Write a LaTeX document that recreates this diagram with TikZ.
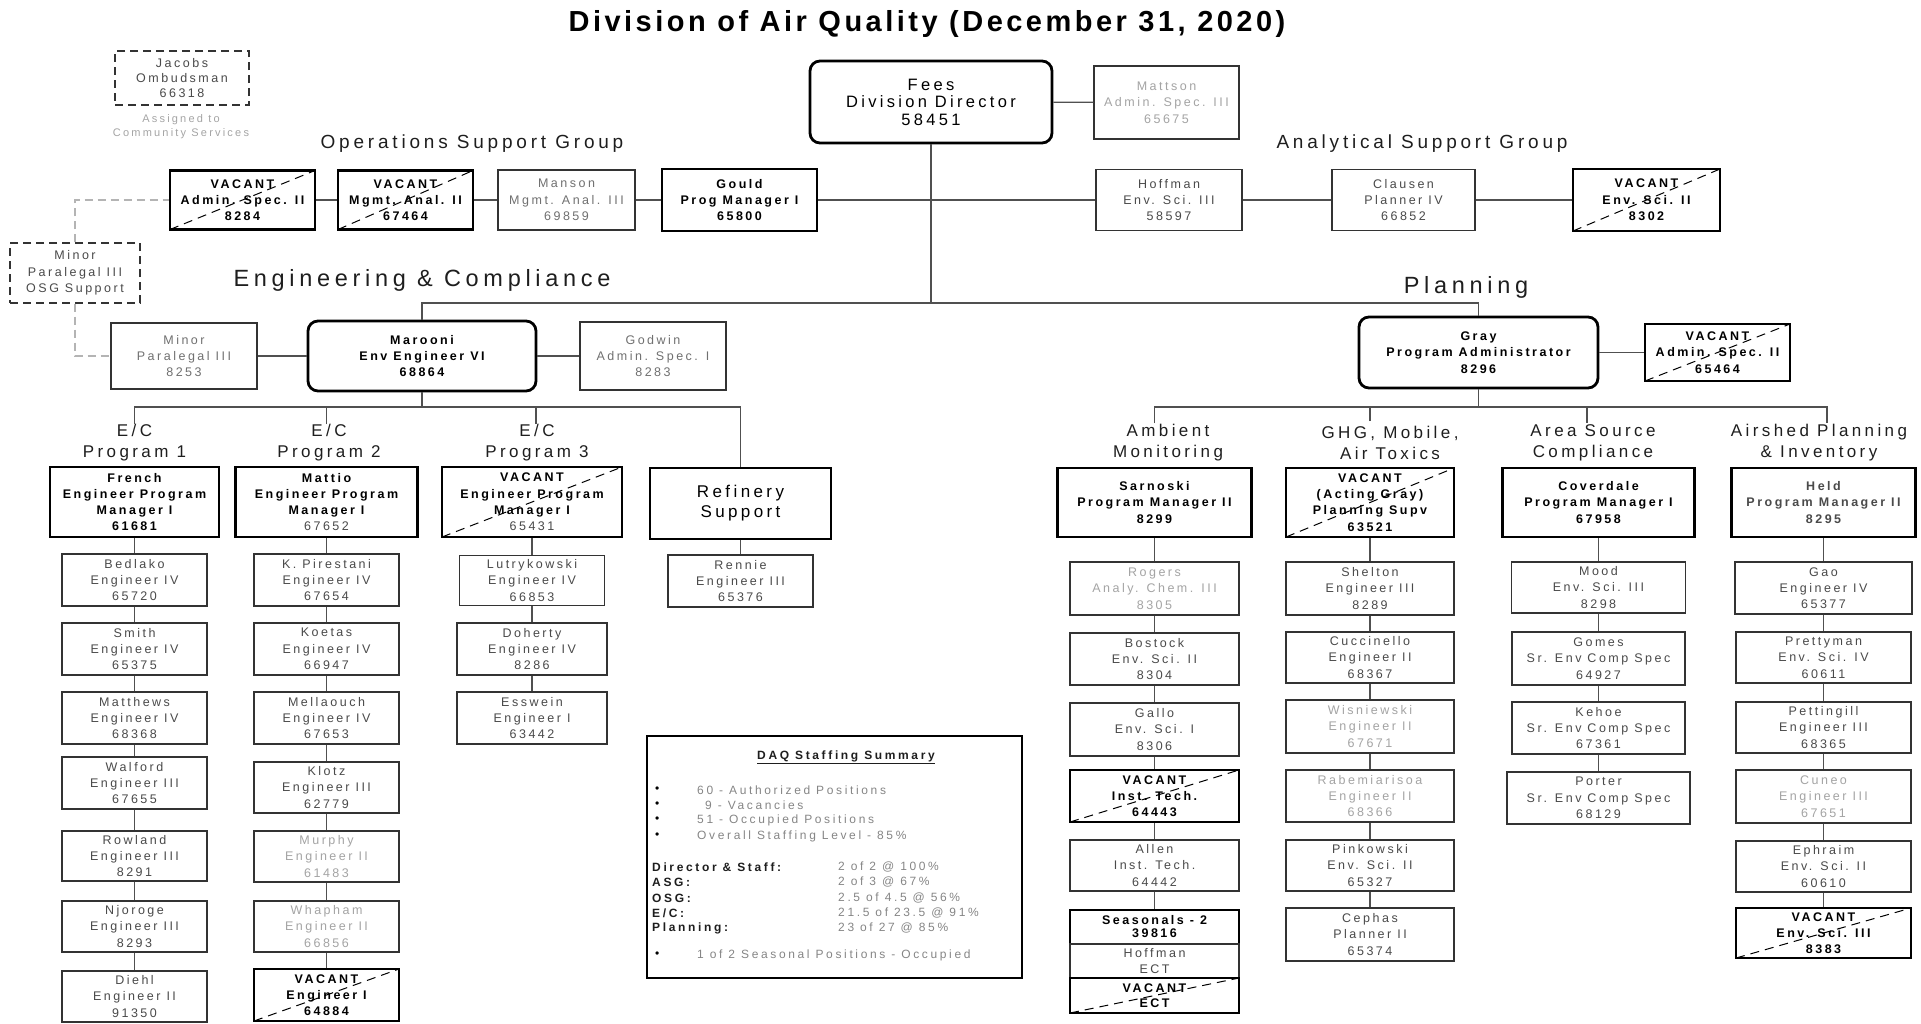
\documentclass[tikz,border=0pt]{standalone}
\usepackage{fontspec}
\setmainfont{Liberation Sans}[LetterSpace=20]
\newfontfamily\titlefont{Liberation Sans}[LetterSpace=12]
\newfontfamily\sumfont{Liberation Sans}[LetterSpace=22]
\usepackage{tikz}

\definecolor{txt}{HTML}{4A4A4A}
\definecolor{txtmid}{HTML}{707070}
\definecolor{txtfaint}{HTML}{A4A4A4}
\definecolor{boxline}{HTML}{333333}
\definecolor{linkgray}{HTML}{505050}
\definecolor{guidegray}{HTML}{B4B4B4}
\definecolor{sumtxt}{HTML}{858585}
\definecolor{sumhead}{HTML}{1E1E1E}

\begin{document}
\begin{tikzpicture}[x=1pt, y=-1pt,
    box/.style={draw=boxline, line width=1.3pt, fill=white, text=txt, align=center, inner sep=0pt,
        font=\fontsize{12.5}{16.3}\selectfont},
    faint/.style={box, text=txtfaint},
    boss/.style={box, draw=black, line width=2.8pt, text=black, font=\fontsize{12.5}{16.3}\selectfont\bfseries},
    vacant/.style={boss, path picture={\draw[black, line width=1pt, dash pattern=on 9pt off 6pt]
        (path picture bounding box.south west) -- (path picture bounding box.north east);}},
    lead/.style={boss, rounded corners=10pt},
    dashbox/.style={box, dash pattern=on 8pt off 5pt},
    unit/.style={align=center, inner sep=0pt, text=sumhead, font=\fontsize{17}{21}\selectfont},
    group/.style={anchor=base, inner sep=0pt, text=sumhead, font=\fontsize{19}{23}\selectfont},
    section/.style={anchor=base, inner sep=0pt, text=sumhead, font=\fontsize{23.5}{28}\selectfont},
    sumline/.style={anchor=west, inner sep=0pt, text=sumtxt, font=\sumfont\fontsize{12}{14}\selectfont},
    link/.style={draw=linkgray, line width=1.3pt},
    guide/.style={draw=guidegray, line width=1.3pt, dash pattern=on 8pt off 5pt},
    sz/.style 2 args={minimum width=#1, minimum height=#2}]

\useasboundingbox (0,0) rectangle (1921,1023);

% Title and headings
\node[anchor=base, inner sep=0pt, font=\titlefont\fontsize{29}{32}\selectfont\bfseries] (title) at (927,31) {Division of Air Quality (December 31, 2020)};
\node[group] (osghead) at (472,148) {Operations Support Group};
\node[group] (asghead) at (1422,148) {Analytical Support Group};
\node[section] (echead) at (422,286) {Engineering \& Compliance};
\node[section] (plhead) at (1466,293) {Planning};

% Director and staff
\node[lead, sz={242}{82}, font=\fontsize{16.5}{17.5}\selectfont] (fees) at (931,102) {Fees\\Division Director\\58451};
\node[faint, sz={145}{73}] (mattson) at (1166.5,102.5) {Mattson\\Admin. Spec. III\\65675};
\node[dashbox, sz={134}{54}, font=\fontsize{12.5}{15}\selectfont] (jacobs) at (182,78) {Jacobs\\Ombudsman\\66318};
\node[align=center, inner sep=0pt, text=txtfaint, font=\fontsize{11}{14}\selectfont] (assigned) at (181,127) {Assigned to\\Community Services};

% Operations and analytical support
\node[vacant, sz={145}{59}] (vacadm) at (242.5,200) {VACANT\\Admin. Spec. II\\8284};
\node[vacant, sz={135}{59}] (vacmgmt) at (405.5,200) {VACANT\\Mgmt. Anal. II\\67464};
\node[box, sz={137}{60}, text=txtmid] (manson) at (566.5,200) {Manson\\Mgmt. Anal. III\\69859};
\node[boss, sz={155}{62}] (gould) at (739.5,200) {Gould\\Prog Manager I\\65800};
\node[box, sz={146}{61}] (hoffman) at (1169,200) {Hoffman\\Env. Sci. III\\58597};
\node[box, sz={143}{61}] (clausen) at (1403.5,200) {Clausen\\Planner IV\\66852};
\node[vacant, sz={147}{62}] (vacenv) at (1646.5,200) {VACANT\\Env. Sci. II\\8302};
\node[dashbox, sz={130}{60}] (minorosg) at (75,273) {Minor\\Paralegal III\\OSG Support};

% Engineering & Compliance
\node[box, sz={146}{66}, text=txtmid] (minor) at (184,356) {Minor\\Paralegal III\\8253};
\node[lead, sz={228}{70}] (marooni) at (422,356) {Marooni\\Env Engineer VI\\68864};
\node[box, sz={146}{68}, text=txtmid] (godwin) at (653,356) {Godwin\\Admin. Spec. I\\8283};

\node[unit] (ec1) at (134.5,443) {E/C\\Program 1};
\node[unit] (ec2) at (329,443) {E/C\\Program 2};
\node[unit] (ec3) at (537,443) {E/C\\Program 3};

\node[boss, sz={169}{70}] (french) at (134.5,502) {French\\Engineer Program\\Manager I\\61681};
\node[boss, sz={182}{70}] (mattio) at (326.5,502) {Mattio\\Engineer Program\\Manager I\\{\mdseries\color{txt}67652}};
\node[vacant, sz={180}{70}] (vacp3) at (532,502) {VACANT\\Engineer Program\\Manager I\\{\mdseries\color{txt}65431}};
\node[boss, sz={181}{71}, font=\fontsize{17}{20}\selectfont] (refinery) at (740.5,503.5) {Refinery\\Support};

\node[box, sz={145}{52}] (bedlako) at (134.5,580) {Bedlako\\Engineer IV\\65720};
\node[box, sz={145}{52}] (smith) at (134.5,649) {Smith\\Engineer IV\\65375};
\node[box, sz={145}{52}] (matthews) at (134.5,718) {Matthews\\Engineer IV\\68368};
\node[box, sz={145}{52}] (walford) at (134.5,783) {Walford\\Engineer III\\67655};
\node[box, sz={145}{50}] (rowland) at (134.5,856) {Rowland\\Engineer III\\8291};
\node[box, sz={145}{51}] (njoroge) at (134.5,926.5) {Njoroge\\Engineer III\\8293};
\node[box, sz={145}{51}] (diehl) at (134.5,996.5) {Diehl\\Engineer II\\91350};

\node[box, sz={145}{52}] (pirestani) at (326.5,580) {K. Pirestani\\Engineer IV\\67654};
\node[box, sz={145}{52}] (koetas) at (326.5,649) {Koetas\\Engineer IV\\66947};
\node[box, sz={145}{52}] (mellaouch) at (326.5,718) {Mellaouch\\Engineer IV\\67653};
\node[box, sz={145}{51}] (klotz) at (326.5,787.5) {Klotz\\Engineer III\\62779};
\node[faint, sz={145}{51}] (murphy) at (326.5,856.5) {Murphy\\Engineer II\\61483};
\node[faint, sz={145}{51}] (whapham) at (326.5,926.5) {Whapham\\Engineer II\\66856};
\node[vacant, sz={145}{52}] (vaceng) at (326.5,995) {VACANT\\Engineer I\\64884};

\node[box, sz={145}{50}] (lutry) at (532,580.5) {Lutrykowski\\Engineer IV\\66853};
\node[box, sz={150}{52}] (doherty) at (532,649) {Doherty\\Engineer IV\\8286};
\node[box, sz={150}{52}] (esswein) at (532,718) {Esswein\\Engineer I\\63442};

\node[box, sz={145}{52}] (rennie) at (740.5,581) {Rennie\\Engineer III\\65376};

% Planning
\node[lead, sz={239}{71}] (grayadm) at (1478.5,352.5) {Gray\\Program Administrator\\8296};
\node[vacant, sz={145}{57}] (vacpl) at (1717.5,352.5) {VACANT\\Admin. Spec. II\\65464};

\node[unit] (amb) at (1168,443) {Ambient\\Monitoring};
\node[unit] (ghg) at (1390,443) {GHG, Mobile,\\Air Toxics};
\node[unit] (area) at (1593,443) {Area Source\\Compliance};
\node[unit] (airshed) at (1819,443) {Airshed Planning\\\& Inventory};

\node[boss, sz={194}{69}] (sarnoski) at (1154.5,502.5) {Sarnoski\\Program Manager II\\8299};
\node[vacant, sz={168}{69}] (acting) at (1370,502.5) {VACANT\\(Acting Gray)\\Planning Supv\\63521};
\node[boss, sz={192}{69}] (coverdale) at (1598.5,502.5) {Coverdale\\Program Manager I\\67958};
\node[boss, sz={184}{69}, text=txt] (held) at (1823.5,502.5) {Held\\Program Manager II\\8295};

\node[faint, sz={169}{53}] (rogers) at (1154.5,588.5) {Rogers\\Analy. Chem. III\\8305};
\node[box, sz={169}{52}] (bostock) at (1154.5,659) {Bostock\\Env. Sci. II\\8304};
\node[box, sz={169}{53}] (gallo) at (1154.5,729.5) {Gallo\\Env. Sci. I\\8306};
\node[vacant, sz={169}{52}] (vacinst) at (1154.5,796) {VACANT\\Inst. Tech.\\64443};
\node[box, sz={169}{51}] (allen) at (1154.5,865.5) {Allen\\Inst. Tech.\\64442};
\node[box, draw=black, line width=1.8pt, text=black, sz={169}{34}, font=\fontsize{12.5}{13}\selectfont\bfseries] (seas) at (1154.5,927) {Seasonals - 2\\39816};
\node[box, sz={169}{34}, font=\fontsize{12.5}{15.5}\selectfont] (hoffect) at (1154.5,961) {Hoffman\\ECT};
\node[vacant, sz={169}{35}, font=\fontsize{12.5}{15}\selectfont\bfseries] (vacect) at (1154.5,995.5) {VACANT\\ECT};

\node[box, sz={168}{53}] (shelton) at (1370,588.5) {Shelton\\Engineer III\\8289};
\node[box, sz={168}{51}] (cuccinello) at (1370,657.5) {Cuccinello\\Engineer II\\68367};
\node[faint, sz={168}{53}] (wisniewski) at (1370,726.5) {Wisniewski\\Engineer II\\67671};
\node[faint, sz={168}{52}] (rabem) at (1370,796) {Rabemiarisoa\\Engineer II\\68366};
\node[box, sz={168}{51}] (pinkowski) at (1370,865.5) {Pinkowski\\Env. Sci. II\\65327};
\node[box, sz={168}{53}] (cephas) at (1370,934.5) {Cephas\\Planner II\\65374};

\node[box, sz={174}{51}] (mood) at (1598.5,587.5) {Mood\\Env. Sci. III\\8298};
\node[box, sz={173}{53}] (gomes) at (1598.5,658.5) {Gomes\\Sr. Env Comp Spec\\64927};
\node[box, sz={173}{52}] (kehoe) at (1598.5,728) {Kehoe\\Sr. Env Comp Spec\\67361};
\node[box, sz={183}{52}] (porter) at (1598.5,798) {Porter\\Sr. Env Comp Spec\\68129};

\node[box, sz={177}{52}] (gao) at (1823.5,588) {Gao\\Engineer IV\\65377};
\node[box, sz={175}{51}] (prettyman) at (1823.5,657.5) {Prettyman\\Env. Sci. IV\\60611};
\node[box, sz={175}{51}] (pettingill) at (1823.5,727.5) {Pettingill\\Engineer III\\68365};
\node[faint, sz={175}{53}] (cuneo) at (1823.5,796.5) {Cuneo\\Engineer III\\67651};
\node[box, sz={175}{51}] (ephraim) at (1823.5,866.5) {Ephraim\\Env. Sci. II\\60610};
\node[vacant, sz={175}{50}] (vacsci) at (1823.5,933) {VACANT\\Env. Sci. III\\8383};

% Staffing summary
\node[draw=black, line width=2.5pt, sz={375}{242}] (summary) at (834.5,857) {};
\node[inner sep=0pt, text=sumhead, font=\sumfont\fontsize{12}{14}\selectfont\bfseries] (sumtitle) at (846,757) {\underline{DAQ Staffing Summary}};
\foreach \y in {790,805,820,836,955}
  \node[sumline, text=black] (bul\y) at (655,\y) {\textbullet};
\foreach \y/\t in {790/60 - Authorized Positions, 820/51 - Occupied Positions,
    836/Overall Staffing Level - 85\%, 955/1 of 2 Seasonal Positions - Occupied}
  \node[sumline] (item\y) at (697,\y) {\t};
\node[sumline] (item805) at (705,805) {9 - Vacancies};
\foreach \y/\l/\v in {867/Director \& Staff:/2 of 2 @ 100\%, 882/ASG:/2 of 3 @ 67\%,
    898/OSG:/2.5 of 4.5 @ 56\%, 913/{E/C:}/21.5 of 23.5 @ 91\%, 928/Planning:/23 of 27 @ 85\%}
{
  \node[sumline, text=sumhead, font=\sumfont\fontsize{12}{14}\selectfont\bfseries] (lab\y) at (652,\y) {\l};
  \node[sumline] (val\y) at (838,\y) {\v};
}

% Junctions
\coordinate (ectop) at (931,303);
\coordinate (ecbus) at (422,407);
\coordinate (plbus) at (1478.5,407);
\coordinate (ectick1) at (134.5,424);
\coordinate (ectick2) at (326.5,424);
\coordinate (ectick3) at (536,424);
\coordinate (pltick1) at (1154.5,423);
\coordinate (pltick2) at (1370,421);
\coordinate (pltick3) at (1587,423);
\coordinate (pltick4) at (1827,423);

% Connectors
\draw[link] (fees) -- (mattson);
\draw[link] (fees.south) -- (ectop);
\draw[link] (marooni.north) |- (ectop) -| (grayadm.north);
\foreach \a/\b in {vacadm/vacmgmt, vacmgmt/manson, manson/gould, gould/hoffman, hoffman/clausen, clausen/vacenv}
  \draw[link] (\a) -- (\b);
\draw[guide] (minorosg.north) |- (vacadm.west);
\draw[guide] (minorosg.south) |- (minor.west);

\draw[link] (minor) -- (marooni);
\draw[link] (marooni) -- (godwin);
\draw[link] (marooni.south) -- (ecbus);
\draw[link] (ectick1) |- (ecbus) -| (refinery.north);
\draw[link] (ectick2) -- (ectick2 |- ecbus);
\draw[link] (ectick3) -- (ectick3 |- ecbus);

\draw[link] (grayadm) -- (vacpl);
\draw[link] (grayadm.south) -- (plbus);
\draw[link] (pltick1) |- (plbus) -| (pltick4);
\draw[link] (pltick2) -- (pltick2 |- plbus);
\draw[link] (pltick3) -- (pltick3 |- plbus);

\foreach \a/\b in {french/bedlako, bedlako/smith, smith/matthews, matthews/walford, walford/rowland,
    rowland/njoroge, njoroge/diehl, mattio/pirestani, pirestani/koetas, koetas/mellaouch,
    mellaouch/klotz, klotz/murphy, murphy/whapham, whapham/vaceng, vacp3/lutry, lutry/doherty,
    doherty/esswein, refinery/rennie, sarnoski/rogers, rogers/bostock, bostock/gallo, gallo/vacinst,
    vacinst/allen, allen/seas, acting/shelton, shelton/cuccinello, cuccinello/wisniewski,
    wisniewski/rabem, rabem/pinkowski, pinkowski/cephas, coverdale/mood, mood/gomes, gomes/kehoe,
    kehoe/porter, held/gao, gao/prettyman, prettyman/pettingill, pettingill/cuneo, cuneo/ephraim,
    ephraim/vacsci}
  \draw[link] (\a) -- (\b);

\end{tikzpicture}
\end{document}
